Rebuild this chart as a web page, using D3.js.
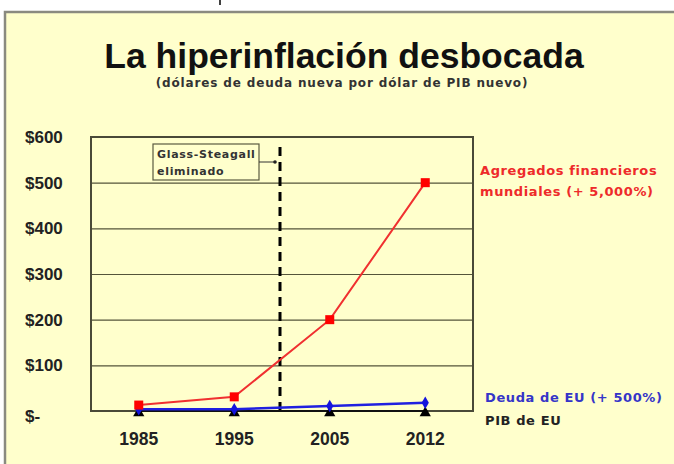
<!DOCTYPE html>
<html>
<head>
<meta charset="utf-8">
<script src="https://cdn.jsdelivr.net/npm/d3@7"></script>
<style>
  body { margin: 0; background: #fff; }
  svg { display: block; font-family: "Liberation Sans", Arial, sans-serif; }
</style>
</head>
<body>
<div id="wrapper"></div>
<script>
const years = ["1985", "1995", "2005", "2012"]
const agregados = [13, 31, 200, 500]
const deudaEU = [4, 4, 11, 18]
const pibEU = [0, 0, 0, 0]
const yTicks = [0, 100, 200, 300, 400, 500, 600]
const yTickLabels = ["$-", "$100", "$200", "$300", "$400", "$500", "$600"]

function drawChart() {
    // Dimensions
    let dimensions = {
        width: 674,
        height: 464,
        margins: { top: 137, right: 201, bottom: 53, left: 91 }
    }
    dimensions.boundedWidth = dimensions.width - dimensions.margins.left - dimensions.margins.right
    dimensions.boundedHeight = dimensions.height - dimensions.margins.top - dimensions.margins.bottom

    const svg = d3.select("#wrapper")
        .append("svg")
            .attr("width", dimensions.width)
            .attr("height", dimensions.height)

    // background frame
    svg.append("rect")
        .attr("x", 5).attr("y", 12)
        .attr("width", dimensions.width).attr("height", dimensions.height)
        .attr("fill", "#ffffcc")
        .attr("stroke", "#8a8a80")
        .attr("stroke-width", 2.5)
    svg.append("line")
        .attr("x1", 220).attr("x2", 220).attr("y1", 0).attr("y2", 5)
        .attr("stroke", "#000").attr("stroke-width", 1.5)

    // titles
    svg.append("text")
        .attr("x", 344).attr("y", 68)
        .attr("text-anchor", "middle")
        .attr("font-size", 35.5).attr("font-weight", "bold")
        .attr("fill", "#111")
        .text("La hiperinflación desbocada")
    svg.append("text")
        .attr("x", 342).attr("y", 87)
        .attr("text-anchor", "middle")
        .attr("font-family", "DejaVu Sans, Verdana, sans-serif")
        .attr("font-size", 12).attr("font-weight", "bold")
        .attr("letter-spacing", 0.85)
        .attr("fill", "#333")
        .text("(dólares de deuda nueva por dólar de PIB nuevo)")

    const bounds = svg.append("g")
        .attr("transform", `translate(${dimensions.margins.left},${dimensions.margins.top})`)

    // Scales
    const xScale = d3.scaleBand()
        .domain(years)
        .range([0, dimensions.boundedWidth])
    const xPos = d => xScale(d) + xScale.bandwidth() / 2

    const yScale = d3.scaleLinear()
        .domain([0, 600])
        .range([dimensions.boundedHeight, 0])

    // gridlines
    const grid = bounds.append("g")
        .call(d3.axisLeft(yScale).tickValues(yTicks).tickSize(-dimensions.boundedWidth).tickFormat(""))
    grid.select(".domain").remove()
    grid.selectAll(".tick line").attr("stroke", "#55553a").attr("stroke-width", 1.2)

    // plot border
    bounds.append("rect")
        .attr("width", dimensions.boundedWidth)
        .attr("height", dimensions.boundedHeight)
        .attr("fill", "none")
        .attr("stroke", "#4a4a38")
        .attr("stroke-width", 2)

    // y axis labels
    const yAxis = bounds.append("g")
        .call(d3.axisLeft(yScale).tickValues(yTicks).tickSize(0)
            .tickFormat((d, i) => yTickLabels[i]))
    yAxis.select(".domain").remove()
    yAxis.selectAll(".tick text")
        .attr("x", -66)
        .attr("text-anchor", "start")
        .attr("font-size", 17)
        .attr("font-weight", "bold")
        .attr("font-family", "Liberation Sans, Arial, sans-serif")
        .attr("fill", "#222")
    yAxis.selectAll(".tick").filter(d => d === 0).select("text").attr("dy", "0.6em")

    // x axis labels
    const xAxis = bounds.append("g")
        .attr("transform", `translate(0,${dimensions.boundedHeight})`)
        .call(d3.axisBottom(xScale).tickSize(0).tickPadding(22))
    xAxis.select(".domain").remove()
    xAxis.selectAll(".tick text")
        .attr("font-size", 17.5)
        .attr("font-weight", "bold")
        .attr("font-family", "Liberation Sans, Arial, sans-serif")
        .attr("fill", "#222")

    // Glass-Steagall marker between 1995 and 2005
    const gsX = xScale("2005") - 2
    bounds.append("line")
        .attr("x1", gsX).attr("x2", gsX)
        .attr("y1", 10).attr("y2", dimensions.boundedHeight)
        .attr("stroke", "#000")
        .attr("stroke-width", 3)
        .attr("stroke-dasharray", "9,6")

    const note = bounds.append("g").attr("transform", "translate(62,7)")
    note.append("rect")
        .attr("width", 106).attr("height", 36)
        .attr("fill", "#ffffcc")
        .attr("stroke", "#5a5a40").attr("stroke-width", 1.2)
    const noteText = (y, txt) => note.append("text").attr("x", 4).attr("y", y)
        .attr("font-family", "DejaVu Sans, Verdana, sans-serif")
        .attr("font-size", 11).attr("font-weight", "bold").attr("fill", "#333")
        .attr("letter-spacing", 0.7)
        .text(txt)
    noteText(14, "Glass-Steagall")
    noteText(31, "eliminado")
    bounds.append("line")
        .attr("x1", 168).attr("x2", gsX - 5)
        .attr("y1", 25).attr("y2", 25)
        .attr("stroke", "#333").attr("stroke-width", 1)
    bounds.append("circle")
        .attr("cx", gsX - 5).attr("cy", 25).attr("r", 1.8).attr("fill", "#222")

    // Lines
    const lineGenerator = values => d3.line()
        .x((d, i) => xPos(years[i]))
        .y(d => yScale(d))(values)

    bounds.append("path")
        .attr("d", lineGenerator(pibEU))
        .attr("fill", "none").attr("stroke", "#111").attr("stroke-width", 2)
    bounds.append("path")
        .attr("d", lineGenerator(deudaEU))
        .attr("fill", "none").attr("stroke", "#1f1fe0").attr("stroke-width", 2.5)
    bounds.append("path")
        .attr("d", lineGenerator(agregados))
        .attr("fill", "none").attr("stroke", "#f03030").attr("stroke-width", 2)

    // Markers
    bounds.selectAll(".pib").data(pibEU).join("path")
        .attr("d", d3.symbol(d3.symbolTriangle, 55)())
        .attr("transform", (d, i) => `translate(${xPos(years[i])},${yScale(d) + 2})`)
        .attr("fill", "#000")
    bounds.selectAll(".deuda").data(deudaEU).join("path")
        .attr("d", d3.symbol(d3.symbolDiamond, 45)())
        .attr("transform", (d, i) => `translate(${xPos(years[i])},${yScale(d)})`)
        .attr("fill", "#1414dd")
    bounds.selectAll(".agr").data(agregados).join("rect")
        .attr("x", (d, i) => xPos(years[i]) - 4.5)
        .attr("y", d => yScale(d) - 4.5)
        .attr("width", 9).attr("height", 9)
        .attr("fill", "#ff0000")

    // series labels
    const lab = (x, y, txt, color) => svg.append("text")
        .attr("x", x).attr("y", y)
        .attr("font-family", "DejaVu Sans, Verdana, sans-serif")
        .attr("font-size", 13).attr("font-weight", "bold")
        .attr("letter-spacing", 0.6)
        .attr("fill", color).text(txt)
    lab(480, 175, "Agregados financieros", "#ee2a2a")
    lab(480, 196, "mundiales (+ 5,000%)", "#ee2a2a")
    lab(485, 402, "Deuda de EU (+ 500%)", "#3535c8")
    lab(485, 425, "PIB de EU", "#222")
}
drawChart()
</script>
</body>
</html>
